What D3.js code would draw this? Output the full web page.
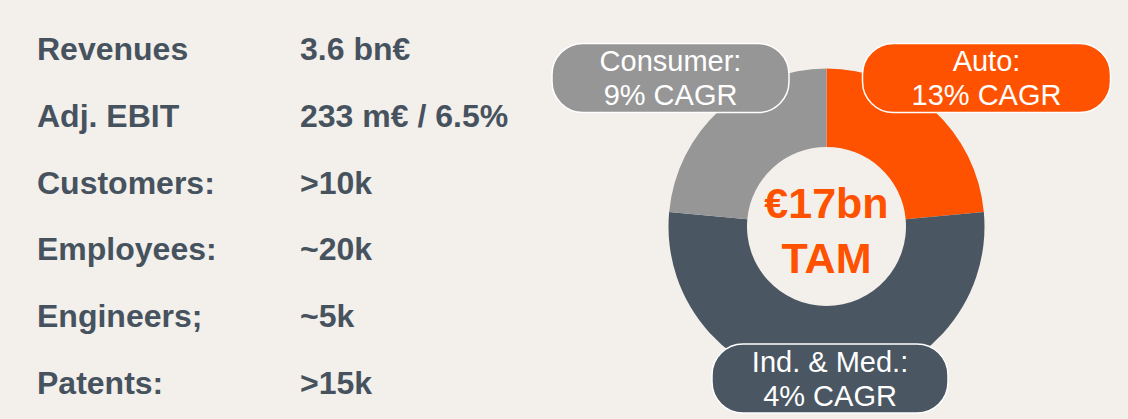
<!DOCTYPE html>
<meta charset="utf-8">
<style>
body { margin: 0; background: #f3efea; }
svg { display: block; }
.kpi {
  font: bold 32px "Liberation Sans", Arial, sans-serif;
  fill: #46535f;
}
.pill text {
  font: 29px "Liberation Sans", Arial, sans-serif;
  fill: #fff;
  text-anchor: middle;
}
.tam {
  font: bold 43px "Liberation Sans", Arial, sans-serif;
  fill: #ff5200;
  text-anchor: middle;
}
</style>
<svg width="1128" height="419"></svg>
<script src="https://cdnjs.cloudflare.com/ajax/libs/d3/7.8.5/d3.min.js"></script>
<script>

// KPI list
var kpiLabels = ["Revenues", "Adj. EBIT", "Customers:", "Employees:", "Engineers;", "Patents:"];
var kpiValues = ["3.6 bn€", "233 m€ / 6.5%", ">10k", "~20k", "~5k", ">15k"];

// TAM split (€bn), clockwise from 12 o'clock
var segments = ["Auto", "Ind. & Med.", "Consumer"];
var segmentTam = [4, 9, 4];
var segmentCagr = ["13% CAGR", "4% CAGR", "9% CAGR"];
var segmentColors = ["#ff5200", "#4a5662", "#969696"];
var centerText = ["€17bn", "TAM"];

var svg = d3.select("svg");

// left side list
var rowY = d3.scalePoint().domain(d3.range(kpiLabels.length)).range([60, 394]);

var rows = svg.append("g").selectAll("g")
  .data(kpiLabels)
  .enter().append("g")
    .attr("transform", function(d, i) { return "translate(0," + rowY(i) + ")"; });

rows.append("text").attr("class", "kpi").attr("x", 37).text(function(d) { return d; });
rows.append("text").attr("class", "kpi").attr("x", 300).text(function(d, i) { return kpiValues[i]; });

// donut
var cx = 826.5, cy = 226.5, outerR = 158, innerR = 79.5;

var pie = d3.pie().sort(null).value(function(d) { return d; });
var arc = d3.arc().innerRadius(innerR).outerRadius(outerR);
var arcs = pie(segmentTam);

var g = svg.append("g").attr("transform", "translate(" + cx + "," + cy + ")");

g.selectAll("path")
  .data(arcs)
  .enter().append("path")
    .attr("d", arc)
    .attr("fill", function(d, i) { return segmentColors[i]; });

g.selectAll("text.tam")
  .data(centerText)
  .enter().append("text")
    .attr("class", "tam")
    .attr("y", function(d, i) { return -8.5 + i * 55; })
    .text(function(d) { return d; });

// pill labels, offset from donut centre
var pillPos = [
  { dx: 160, dy: -148.5, w: 248 },
  { dx: 3.5, dy: 152, w: 236 },
  { dx: -156, dy: -148.5, w: 237 }
];
var pillH = 69;

var pills = g.selectAll("g.pill")
  .data(arcs)
  .enter().append("g")
    .attr("class", "pill")
    .attr("transform", function(d, i) { return "translate(" + pillPos[i].dx + "," + pillPos[i].dy + ")"; });

pills.append("rect")
  .attr("x", function(d, i) { return -pillPos[i].w / 2; })
  .attr("y", -pillH / 2)
  .attr("width", function(d, i) { return pillPos[i].w; })
  .attr("height", pillH)
  .attr("rx", 31)
  .attr("fill", function(d, i) { return segmentColors[i]; })
  .attr("stroke", "#fff")
  .attr("stroke-width", 1.5);

pills.append("text")
  .attr("y", -7)
  .text(function(d, i) { return segments[i] + ":"; });

pills.append("text")
  .attr("y", 27)
  .text(function(d, i) { return segmentCagr[i]; });

</script>
